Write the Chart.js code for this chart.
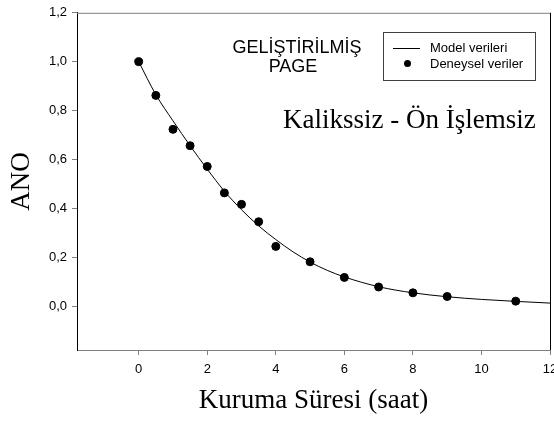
<!DOCTYPE html>
<html lang="tr">
<head>
<meta charset="UTF-8">
<title>ANO - Kuruma Süresi</title>
<script src="https://cdn.jsdelivr.net/npm/chart.js@4.4.0/dist/chart.umd.min.js"></script>
<style>
    html, body { margin: 0; padding: 0; background: #fff; overflow: hidden; }
    #kutu { width: 554px; height: 425px; overflow: hidden; }
    #grafik { display: block; }
</style>
</head>
<body>
<div id="kutu"><canvas id="grafik" width="580" height="425"></canvas></div>
<script>
// Deneysel veriler: kuruma süresi (saat) ve ANO
const deneyselSure = [0, 0.5, 1, 1.5, 2, 2.5, 3, 3.5, 4, 5, 6, 7, 8, 9, 11];
const deneyselAno = [1.0, 0.862, 0.723, 0.656, 0.571, 0.463, 0.416, 0.345, 0.244, 0.181, 0.117, 0.078, 0.054, 0.039, 0.020];

// Model eğrisi (Geliştirilmiş Page)
const modelSure = [0, 0.5, 1, 1.5, 2, 2.5, 3, 3.5, 4, 4.5, 5, 5.5, 6, 7, 8, 9, 10, 11, 12];
const modelAno = [1.0, 0.865, 0.758, 0.656, 0.560, 0.470, 0.394, 0.328, 0.272, 0.222, 0.180, 0.146, 0.119, 0.079, 0.054, 0.038, 0.027, 0.019, 0.012];

// Eksen işaretleri
const xIsaretleri = [0, 2, 4, 6, 8, 10, 12];
const yIsaretleri = [0, 0.2, 0.4, 0.6, 0.8, 1.0, 1.2];

const ARIAL = "Arial, 'Liberation Sans', sans-serif";
const TIMES = "'Times New Roman', 'Liberation Serif', serif";

function noktalar(xs, ys) {
    return xs.map((x, i) => ({ x: x, y: ys[i] }));
}

// Üst ve sağ kenar çizgileri
const cerceve = {
    id: "cerceve",
    afterDraw(chart) {
        const { ctx, chartArea: a } = chart;
        ctx.save();
        ctx.lineWidth = 1;
        ctx.strokeStyle = "#808080";
        ctx.beginPath();
        ctx.moveTo(a.left, a.top + 0.5);
        ctx.lineTo(a.right + 1, a.top + 0.5);
        ctx.stroke();
        ctx.strokeStyle = "#000";
        ctx.beginPath();
        ctx.moveTo(a.right + 0.5, a.top);
        ctx.lineTo(a.right + 0.5, a.bottom);
        ctx.stroke();
        ctx.restore();
    }
};

// Başlık yazıları ve gösterge kutusu
const yazilar = {
    id: "yazilar",
    afterDraw(chart) {
        const ctx = chart.ctx;
        const ds = chart.data.datasets;
        ctx.save();
        ctx.fillStyle = "#000";

        ctx.font = "18px " + ARIAL;
        ctx.textAlign = "center";
        ctx.textBaseline = "alphabetic";
        ctx.fillText("GELİŞTİRİLMİŞ", 297, 53);
        ctx.fillText("PAGE", 293, 72);

        ctx.font = "27px " + TIMES;
        ctx.textAlign = "left";
        ctx.fillText("Kalikssiz - Ön İşlemsiz", 283, 128);

        // gösterge
        ctx.strokeStyle = "#404040";
        ctx.lineWidth = 1;
        ctx.strokeRect(383.5, 32.5, 152, 48);

        ctx.strokeStyle = "#000";
        ctx.beginPath();
        ctx.moveTo(393, 48.5);
        ctx.lineTo(420, 48.5);
        ctx.stroke();

        ctx.beginPath();
        ctx.arc(407.5, 63.5, 3.5, 0, Math.PI * 2);
        ctx.fill();

        ctx.font = "13px " + ARIAL;
        ctx.textBaseline = "middle";
        ctx.fillText(ds[0].label, 430, 48);
        ctx.fillText(ds[1].label, 430, 64);
        ctx.restore();
    }
};

new Chart(document.getElementById("grafik"), {
    type: "scatter",
    data: {
        datasets: [
            {
                label: "Model verileri",
                data: noktalar(modelSure, modelAno),
                showLine: true,
                borderColor: "#000",
                borderWidth: 1,
                pointRadius: 0,
                cubicInterpolationMode: "monotone",
                order: 2
            },
            {
                label: "Deneysel veriler",
                data: noktalar(deneyselSure, deneyselAno),
                showLine: false,
                backgroundColor: "#000",
                borderColor: "#000",
                pointRadius: 4,
                order: 1
            }
        ]
    },
    options: {
        responsive: false,
        animation: false,
        layout: { padding: { top: 12, right: 30, left: 0, bottom: 0 } },
        plugins: {
            legend: { display: false },
            tooltip: { enabled: false }
        },
        scales: {
            x: {
                type: "linear",
                position: "bottom",
                min: -1.8,
                max: 12,
                afterBuildTicks: (s) => { s.ticks = xIsaretleri.map((v) => ({ value: v })); },
                afterFit: (s) => { s.height = 75; },
                ticks: {
                    color: "#000",
                    font: { family: ARIAL, size: 13 },
                    padding: 7,
                    maxRotation: 0,
                    autoSkip: false,
                    callback: (v) => String(v)
                },
                grid: { drawOnChartArea: false, drawTicks: true, tickLength: 5, color: "#808080" },
                border: { color: "#808080" },
                title: {
                    display: true,
                    text: "Kuruma Süresi (saat)",
                    color: "#000",
                    font: { family: TIMES, size: 27 },
                    padding: { top: 0, bottom: 8 }
                }
            },
            y: {
                type: "linear",
                min: -0.18,
                max: 1.2,
                afterBuildTicks: (s) => { s.ticks = yIsaretleri.map((v) => ({ value: v })); },
                afterFit: (s) => { s.width = 77; },
                ticks: {
                    color: "#000",
                    font: { family: ARIAL, size: 13 },
                    padding: 5,
                    callback: (v) => v.toFixed(1).replace(".", ",")
                },
                grid: { drawOnChartArea: false, drawTicks: true, tickLength: 5, color: "#808080" },
                border: { color: "#000" },
                title: {
                    display: true,
                    text: "ANO",
                    color: "#000",
                    font: { family: TIMES, size: 27 },
                    padding: { top: 6, bottom: 0 }
                }
            }
        }
    },
    plugins: [cerceve, yazilar]
});
</script>
</body>
</html>
